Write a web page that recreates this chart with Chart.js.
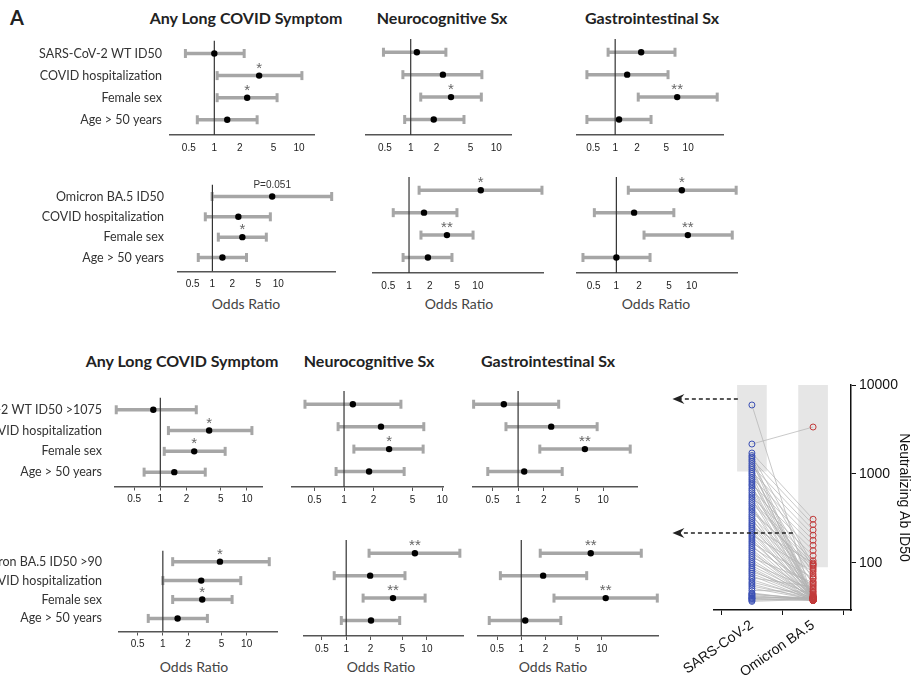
<!DOCTYPE html>
<html>
<head>
<meta charset="utf-8">
<script src="https://cdn.jsdelivr.net/npm/chart.js@4.4.1/dist/chart.umd.min.js"></script>
<style>
body { margin:0; background:#fff; width:914px; height:677px; overflow:hidden; position:relative; font-family:Lato, sans-serif; }
canvas { position:absolute; }
.t { position:absolute; font-weight:bold; font-size:16px; line-height:20px; color:#222; transform:translateX(-50%); white-space:nowrap; }
.o { position:absolute; font-size:14px; line-height:20px; color:#444; transform:translateX(-50%); white-space:nowrap; }
</style>
</head>
<body>
<div style="position:absolute;left:10px;top:5px;font-weight:bold;font-size:20px;color:#222">A</div>
<div class="t" style="left:246px;top:8px">Any Long COVID Symptom</div>
<div class="t" style="left:442px;top:8px">Neurocognitive Sx</div>
<div class="t" style="left:652px;top:8px">Gastrointestinal Sx</div>
<div class="o" style="left:246px;top:294px">Odds Ratio</div>
<div class="o" style="left:459px;top:294px">Odds Ratio</div>
<div class="o" style="left:656px;top:294px">Odds Ratio</div>
<div class="t" style="left:182px;top:351px">Any Long COVID Symptom</div>
<div class="t" style="left:369px;top:351px">Neurocognitive Sx</div>
<div class="t" style="left:548px;top:351px">Gastrointestinal Sx</div>
<div class="o" style="left:194px;top:657px">Odds Ratio</div>
<div class="o" style="left:381px;top:657px">Odds Ratio</div>
<div class="o" style="left:553px;top:657px">Odds Ratio</div>
<script>
// tick labels on the odds ratio axes
var tickVals = [0.5, 1, 2, 5, 10];

// row labels
var wtRows = ['SARS-CoV-2 WT ID50', 'COVID hospitalization', 'Female sex', 'Age > 50 years'];
var ba5Rows = ['Omicron BA.5 ID50', 'COVID hospitalization', 'Female sex', 'Age > 50 years'];
var wtCutRows = ['SARS-CoV-2 WT ID50 >1075', 'COVID hospitalization', 'Female sex', 'Age > 50 years'];
var ba5CutRows = ['Omicron BA.5 ID50 >90', 'COVID hospitalization', 'Female sex', 'Age > 50 years'];

// A: WT ID50 (continuous)
var wtAnyOR = [1.0, 3.38, 2.44, 1.42], wtAnyLo = [0.456, 1.08, 1.08, 0.63], wtAnyHi = [2.25, 10.8, 5.5, 3.2];
var wtAnySig = ['', '*', '*', ''];
var wtNeuroOR = [1.18, 2.38, 2.96, 1.86], wtNeuroLo = [0.48, 0.81, 1.31, 0.85], wtNeuroHi = [2.58, 6.8, 6.7, 4.2];
var wtNeuroSig = ['', '', '*', ''];
var wtGiOR = [2.27, 1.46, 7.07, 1.13], wtGiLo = [0.80, 0.41, 2.07, 0.41], wtGiHi = [6.6, 5.3, 25, 3.1];
var wtGiSig = ['', '', '**', ''];

// A: BA.5 ID50 (continuous)
var ba5AnyOR = [8.1, 2.48, 2.85, 1.42], ba5AnyLo = [0.99, 0.78, 1.23, 0.61], ba5AnyHi = [65, 7.6, 6.6, 3.3];
var ba5AnySig = ['P=0.051', '', '*', ''];
var ba5NeuroOR = [11.0, 1.65, 3.55, 1.88], ba5NeuroLo = [1.40, 0.59, 1.49, 0.82], ba5NeuroHi = [85, 4.96, 8.5, 4.2];
var ba5NeuroSig = ['*', '', '**', ''];
var ba5GiOR = [7.4, 1.72, 8.9, 1.0], ba5GiLo = [1.44, 0.51, 2.33, 0.36], ba5GiHi = [39, 5.8, 34.6, 2.8];
var ba5GiSig = ['*', '', '**', ''];

// B: WT ID50 > 1075
var wtCutAnyOR = [0.83, 3.66, 2.46, 1.45], wtCutAnyLo = [0.31, 1.24, 1.11, 0.65], wtCutAnyHi = [2.6, 11.4, 5.6, 3.3];
var wtCutAnySig = ['', '*', '*', ''];
var wtCutNeuroOR = [1.23, 2.38, 2.88, 1.8], wtCutNeuroLo = [0.40, 0.87, 1.26, 0.83], wtCutNeuroHi = [3.8, 6.5, 6.4, 4.1];
var wtCutNeuroSig = ['', '', '*', ''];
var wtCutGiOR = [0.68, 2.45, 6.1, 1.18], wtCutGiLo = [0.30, 0.72, 1.8, 0.44], wtCutGiHi = [3.0, 8.5, 20.8, 3.3];
var wtCutGiSig = ['', '', '**', ''];

// B: BA.5 ID50 > 90
var ba5CutAnyOR = [4.8, 2.87, 2.95, 1.5], ba5CutAnyLo = [1.31, 1.0, 1.31, 0.67], ba5CutAnyHi = [18.6, 8.5, 6.7, 3.4];
var ba5CutAnySig = ['*', '', '*', ''];
var ba5CutNeuroOR = [7.1, 1.98, 3.8, 2.03], ba5CutNeuroLo = [1.92, 0.71, 1.62, 0.87], ba5CutNeuroHi = [25.6, 5.35, 9.5, 4.6];
var ba5CutNeuroSig = ['**', '', '**', ''];
var ba5CutGiOR = [7.3, 1.87, 11.2, 1.12], ba5CutGiLo = [1.72, 0.55, 2.55, 0.40], ba5CutGiHi = [31, 6.5, 49, 3.1];
var ba5CutGiSig = ['**', '', '**', ''];

// paired neutralizing titers
var pairCats = ['SARS-CoV-2', 'Omicron BA.5'];
var sarsWT = [5960, 2170, 1720, 1610, 1540, 1460, 1390, 1310, 1240, 1180,
  1120, 1060, 1010, 960, 905, 860, 815, 770, 735, 690,
  655, 615, 580, 550, 520, 490, 465, 440, 415, 395,
  372, 350, 332, 315, 298, 282, 268, 255, 242, 230,
  218, 206, 196, 186, 176, 167, 158, 150, 142, 135,
  128, 121, 115, 109, 103, 98, 93, 88, 84, 80,
  76, 72, 68, 65, 61, 58, 55, 52, 49, 46,
  44, 42, 40, 38, 40, 39, 37, 41, 43, 45];
var ba5 = [38, 3370, 310, 95, 42, 270, 40, 88, 235, 39,
  41, 205, 75, 40, 180, 38, 66, 158, 42, 40,
  138, 58, 39, 121, 40, 106, 97, 41, 38, 84,
  92, 40, 71, 39, 62, 43, 38, 100, 52, 40,
  39, 80, 47, 38, 41, 68, 39, 56, 40, 38,
  45, 39, 60, 40, 38, 50, 42, 39, 38, 44,
  40, 38, 54, 39, 41, 38, 40, 39, 48, 38,
  40, 39, 38, 40, 41, 38, 39, 40, 38, 39];
var wtCut = 1075, ba5Cut = 90, titerTop = 10000;

var grey = '#a6a6a6';
var yMin = 0.41, yMax = 4.69;

var sigPlugin = {
  id: 'sig',
  afterDatasetsDraw: function(chart, args, opts) {
    var ctx = chart.ctx, x = chart.scales.x, y = chart.scales.y;
    ctx.save();
    ctx.textAlign = 'center';
    opts.sig.forEach(function(s, i) {
      if (!s) return;
      var px = x.getPixelForValue(opts.or[i]);
      var py = y.getPixelForValue(i + 1);
      if (s.charAt(0) == 'P') {
        ctx.font = '10px "Liberation Sans"';
        ctx.fillStyle = '#333';
        ctx.fillText(s, px, py - 8);
      } else {
        ctx.font = '15px "Liberation Sans"';
        ctx.fillStyle = '#666';
        ctx.fillText(s, px, py - 3);
      }
    });
    ctx.restore();
  }
};

function forest(p) {
  var padT = 14, padR = 10, padL = p.rows ? 0 : 10, xh = 20, h = 96;
  var left = p.rows ? 0 : p.xl - padL;
  var cv = document.createElement('canvas');
  cv.width = p.xr + padR - left;
  cv.height = padT + h + xh;
  cv.style.left = left + 'px';
  cv.style.top = (p.y - h - padT) + 'px';
  document.body.appendChild(cv);

  var ds = [
    { data: p.or.map(function(v, i) { return {x: v, y: i + 1}; }),
      pointRadius: 3.2, pointBackgroundColor: '#000', pointBorderColor: '#000', pointBorderWidth: 0, clip: false },
    { data: [{x: 1, y: yMin}, {x: 1, y: yMax}], showLine: true, borderColor: '#333', borderWidth: 1.2, pointRadius: 0 }
  ];
  p.or.forEach(function(v, i) {
    ds.push({ data: [{x: p.lo[i], y: i + 1}, {x: p.hi[i], y: i + 1}], showLine: true,
      borderColor: grey, borderWidth: 3.5, pointStyle: 'line', pointRotation: 90, pointRadius: 4.5,
      pointBorderWidth: 3, pointBorderColor: grey, clip: false });
  });

  new Chart(cv.getContext('2d'), {
    type: 'scatter',
    data: { datasets: ds },
    plugins: [sigPlugin],
    options: {
      responsive: false, animation: false, devicePixelRatio: 1,
      layout: { padding: { top: padT, right: padR, left: padL, bottom: 0 } },
      plugins: { legend: { display: false }, tooltip: { enabled: false }, sig: { or: p.or, sig: p.sig } },
      scales: {
        x: {
          type: 'logarithmic', min: p.min, max: p.max,
          afterBuildTicks: function(s) { s.ticks = tickVals.map(function(v) { return {value: v}; }); },
          ticks: { callback: function(v) { return String(v); }, font: { family: 'Liberation Sans', size: 10 },
            color: '#222', padding: 3, maxRotation: 0, autoSkip: false },
          grid: { drawOnChartArea: false, drawTicks: true, tickLength: 4, tickColor: p.ticks ? '#555' : 'rgba(0,0,0,0)' },
          border: { display: true, color: '#555', width: 1.5 },
          afterFit: function(s) { s.height = xh; }
        },
        y: {
          type: 'linear', reverse: true, min: yMin, max: yMax, display: !!p.rows,
          afterBuildTicks: function(s) { s.ticks = [1, 2, 3, 4].map(function(v) { return {value: v}; }); },
          ticks: { callback: function(v) { return p.rows ? p.rows[v - 1] : ''; }, font: { family: 'Lato', size: 12.5 },
            color: '#333', padding: p.gap || 8, autoSkip: false },
          grid: { display: false, drawTicks: false },
          border: { display: false },
          afterFit: function(s) { s.width = p.rows ? p.xl : 0; }
        }
      }
    }
  });
}

var panels = [
  {xl: 170, xr: 314, y: 135, min: 0.303, max: 15, rows: wtRows, gap: 8, or: wtAnyOR, lo: wtAnyLo, hi: wtAnyHi, sig: wtAnySig},
  {xl: 366, xr: 511, y: 135, min: 0.308, max: 14.9, or: wtNeuroOR, lo: wtNeuroLo, hi: wtNeuroHi, sig: wtNeuroSig},
  {xl: 577, xr: 723, y: 135, min: 0.30, max: 30, or: wtGiOR, lo: wtGiLo, hi: wtGiHi, sig: wtGiSig},
  {xl: 178, xr: 335, y: 273, min: 0.305, max: 73, rows: ba5Rows, gap: 14, or: ba5AnyOR, lo: ba5AnyLo, hi: ba5AnyHi, sig: ba5AnySig},
  {xl: 373, xr: 543, y: 273, min: 0.30, max: 88, or: ba5NeuroOR, lo: ba5NeuroLo, hi: ba5NeuroHi, sig: ba5NeuroSig},
  {xl: 577, xr: 737, y: 273, min: 0.31, max: 40, or: ba5GiOR, lo: ba5GiLo, hi: ba5GiHi, sig: ba5GiSig},
  {xl: 115, xr: 262, y: 487, min: 0.30, max: 14.9, rows: wtCutRows, gap: 13, ticks: true, or: wtCutAnyOR, lo: wtCutAnyLo, hi: wtCutAnyHi, sig: wtCutAnySig},
  {xl: 292, xr: 443, y: 487, min: 0.295, max: 10.2, ticks: true, or: wtCutNeuroOR, lo: wtCutNeuroLo, hi: wtCutNeuroHi, sig: wtCutNeuroSig},
  {xl: 473, xr: 637, y: 487, min: 0.295, max: 25, ticks: true, or: wtCutGiOR, lo: wtCutGiLo, hi: wtCutGiHi, sig: wtCutGiSig},
  {xl: 119, xr: 277, y: 636, min: 0.32, max: 23, rows: ba5CutRows, gap: 17, ticks: true, or: ba5CutAnyOR, lo: ba5CutAnyLo, hi: ba5CutAnyHi, sig: ba5CutAnySig},
  {xl: 304, xr: 463, y: 636, min: 0.30, max: 28, ticks: true, or: ba5CutNeuroOR, lo: ba5CutNeuroLo, hi: ba5CutNeuroHi, sig: ba5CutNeuroSig},
  {xl: 478, xr: 658, y: 636, min: 0.29, max: 50, ticks: true, or: ba5CutGiOR, lo: ba5CutGiLo, hi: ba5CutGiHi, sig: ba5CutGiSig}
];
panels.forEach(forest);

// paired titer plot
var pairLines = [];
sarsWT.forEach(function(v, i) {
  pairLines.push({x: 0, y: v}, {x: 1, y: ba5[i]}, {x: 0.5, y: null});
});

var arrowPlugin = {
  id: 'arrows',
  afterDraw: function(chart) {
    var ctx = chart.ctx, x = chart.scales.x, y = chart.scales.y;
    [[-0.23, 6960], [0.67, 217]].forEach(function(a) {
      var x0 = x.getPixelForValue(a[0]), tip = x.getPixelForValue(-1.3), py = y.getPixelForValue(a[1]);
      ctx.save();
      ctx.strokeStyle = '#222'; ctx.lineWidth = 1.5; ctx.setLineDash([4, 3]);
      ctx.beginPath(); ctx.moveTo(x0, py); ctx.lineTo(tip + 7, py); ctx.stroke();
      ctx.setLineDash([]); ctx.fillStyle = '#222';
      ctx.beginPath(); ctx.moveTo(tip, py); ctx.lineTo(tip + 12, py - 5); ctx.lineTo(tip + 8, py);
      ctx.lineTo(tip + 12, py + 5); ctx.closePath(); ctx.fill();
      ctx.restore();
    });
  }
};

var pc = document.createElement('canvas');
pc.width = 274; pc.height = 347;
pc.style.left = '640px'; pc.style.top = '330px';
document.body.appendChild(pc);

new Chart(pc.getContext('2d'), {
  type: 'scatter',
  data: {
    datasets: [
      { data: sarsWT.map(function(v) { return {x: 0, y: v}; }), pointRadius: 3, pointBorderWidth: 1,
        pointBorderColor: '#3a4fb4', pointBackgroundColor: 'rgba(255,255,255,0)' },
      { data: ba5.map(function(v) { return {x: 1, y: v}; }), pointRadius: 3, pointBorderWidth: 1,
        pointBorderColor: '#c23a3a', pointBackgroundColor: 'rgba(255,255,255,0)' },
      { type: 'line', data: pairLines, borderColor: '#b2b2b2', borderWidth: 0.7, pointRadius: 0, spanGaps: false },
      { type: 'bar', data: [{x: 0, y: [wtCut, titerTop]}, {x: 1, y: [ba5Cut, titerTop]}],
        backgroundColor: '#e6e6e6', barThickness: 29 }
    ]
  },
  plugins: [arrowPlugin],
  options: {
    responsive: false, animation: false, devicePixelRatio: 1,
    layout: { padding: { left: 74, top: 55, right: 0, bottom: 0 } },
    plugins: { legend: { display: false }, tooltip: { enabled: false } },
    scales: {
      x: {
        type: 'linear', min: -0.62, max: 1.62, offset: false,
        afterBuildTicks: function(s) { s.ticks = [{value: 0}, {value: 1}]; },
        ticks: { callback: function(v) { return pairCats[v]; }, font: { family: 'Liberation Sans', size: 14 },
          color: '#111', minRotation: 35, maxRotation: 35, padding: 2, autoSkip: false },
        grid: { drawOnChartArea: false, tickLength: 5, tickColor: '#111' },
        border: { color: '#111', width: 1.5 },
        afterFit: function(s) { s.height = 67; }
      },
      y: {
        type: 'logarithmic', position: 'right', min: 29.6, max: titerTop,
        afterBuildTicks: function(s) { s.ticks = [{value: 100}, {value: 1000}, {value: 10000}]; },
        ticks: { callback: function(v) { return String(v); }, font: { family: 'Liberation Sans', size: 14 },
          color: '#111', padding: 3 },
        grid: { drawOnChartArea: false, tickLength: 5, tickColor: '#111' },
        border: { color: '#111', width: 1.5 },
        title: { display: true, text: 'Neutralizing Ab ID50', font: { family: 'Liberation Sans', size: 14 },
          color: '#111', padding: 2 },
        afterFit: function(s) { s.width = 63; }
      }
    }
  }
});
</script>
</body>
</html>
